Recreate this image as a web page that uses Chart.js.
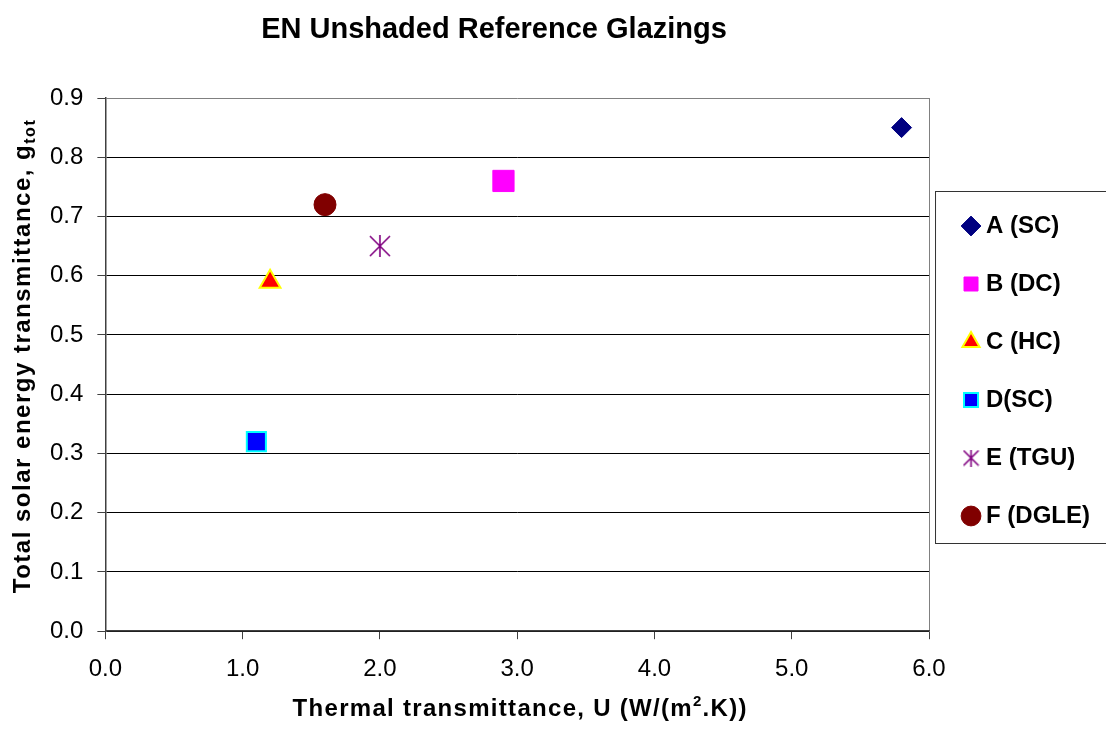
<!DOCTYPE html>
<html>
<head>
<meta charset="utf-8">
<script src="https://cdn.jsdelivr.net/npm/chart.js@4.4.0/dist/chart.umd.min.js"></script>
<style>
html, body { margin: 0; padding: 0; background: #fff; }
</style>
</head>
<body>
<canvas id="mycanvas" width="1106" height="729"></canvas>
<script>
// data
var seriesNames = ['A (SC)', 'B (DC)', 'C (HC)', 'D(SC)', 'E (TGU)', 'F (DGLE)'];
var uValues = [5.8, 2.9, 1.2, 1.1, 2.0, 1.6];
var gValues = [0.85, 0.76, 0.59, 0.32, 0.65, 0.72];
var xTickRange = [0, 6, 1];
var yTickRange = [0, 0.9, 0.1];

var chartTitle = 'EN Unshaded Reference Glazings';
var xTitleParts = [['Thermal transmittance, U (W/(m', 24, 0], ['2', 15, -10], ['.K))', 24, 0]];
var yTitleParts = [['Total solar energy transmittance, g', 24, 0], ['tot', 16, 5]];

var FONT = 'Arial, "Liberation Sans", sans-serif';

function makeStar(size, color) {
	var c = document.createElement('canvas');
	c.width = size;
	c.height = size;
	var g = c.getContext('2d');
	g.strokeStyle = color;
	g.lineWidth = 1.6;
	g.beginPath();
	g.moveTo(size / 2, 0); g.lineTo(size / 2, size);
	g.moveTo(1, 1); g.lineTo(size - 1, size - 1);
	g.moveTo(size - 1, 1); g.lineTo(1, size - 1);
	g.stroke();
	return c;
}
var bigStar = makeStar(22, '#800080');
var legendStar = makeStar(17, '#800080');

var markers = [
	{style: 'rectRot', bg: '#000080', border: '#000080', width: 1, r: 10},
	{style: 'rect', bg: '#FF00FF', border: '#FF00FF', width: 1, r: 15},
	{style: 'triangle', bg: '#FF0000', border: '#FFFF00', width: 2, r: 12},
	{style: 'rect', bg: '#0000FF', border: '#00FFFF', width: 2, r: 13.5},
	{style: bigStar, bg: '#800080', border: '#800080', width: 1, r: 11},
	{style: 'circle', bg: '#800000', border: '#800000', width: 1, r: 11}
];

var datasets = [];
for (var i in seriesNames) {
	var m = markers[i];
	datasets.push({
		label: seriesNames[i],
		data: [{x: uValues[i], y: gValues[i]}],
		pointStyle: m.style,
		backgroundColor: m.bg,
		borderColor: m.border,
		borderWidth: m.width,
		pointRadius: m.r,
		pointHoverRadius: m.r,
		showLine: false
	});
}

function drawRich(ctx, parts, x, y, spacing) {
	ctx.letterSpacing = spacing + 'px';
	var total = 0;
	parts.forEach(function(p) {
		ctx.font = 'bold ' + p[1] + 'px ' + FONT;
		total += ctx.measureText(p[0]).width;
	});
	var cur = x - total / 2;
	ctx.textAlign = 'left';
	parts.forEach(function(p) {
		ctx.font = 'bold ' + p[1] + 'px ' + FONT;
		ctx.fillText(p[0], cur, y + p[2]);
		cur += ctx.measureText(p[0]).width;
	});
	ctx.letterSpacing = '0px';
}

var textPlugin = {
	id: 'texts',
	afterLayout: function(chart) {
		var lg = chart.legend;
		lg.top -= 28; lg.bottom -= 28;
		lg.left += 5; lg.right += 5;
	},
	afterDraw: function(chart) {
		var ctx = chart.ctx;
		var area = chart.chartArea;
		ctx.save();
		ctx.fillStyle = '#000';
		ctx.textBaseline = 'alphabetic';
		ctx.textAlign = 'center';
		ctx.font = 'bold 29px ' + FONT;
		ctx.fillText(chartTitle, 494, 38);

		drawRich(ctx, xTitleParts, (area.left + area.right) / 2 + 3, 716, 1.3);

		ctx.save();
		ctx.translate(30, 356);
		ctx.rotate(-Math.PI / 2);
		drawRich(ctx, yTitleParts, 0, 0, 1.5);
		ctx.restore();

		// legend frame
		var hb = chart.legend.legendHitBoxes;
		if (hb && hb.length) {
			var top = hb[0].top - 23;
			var bottom = hb[hb.length - 1].top + 39;
			ctx.strokeStyle = '#333';
			ctx.lineWidth = 1;
			ctx.strokeRect(chart.legend.left + 1.5, top + 0.5, 400, bottom - top);
		}
		ctx.restore();
	}
};

Chart.defaults.font.family = FONT;
Chart.defaults.font.size = 24;
Chart.defaults.color = '#000';

var ctx = document.getElementById('mycanvas');
var chart = new Chart(ctx, {
	type: 'scatter',
	data: {datasets: datasets},
	options: {
		responsive: false,
		animation: false,
		events: [],
		layout: {padding: {top: 98, left: 36, right: 11, bottom: 29}},
		scales: {
			x: {
				type: 'linear',
				min: xTickRange[0],
				max: xTickRange[1],
				ticks: {stepSize: xTickRange[2], padding: 16, callback: function(v) { return v.toFixed(1); }},
				grid: {
					color: function(c) { return c.index === 6 ? '#808080' : 'rgba(0,0,0,0)'; },
					tickColor: '#404040',
					tickLength: 8
				},
				border: {color: '#404040', width: 1.5}
			},
			y: {
				type: 'linear',
				min: yTickRange[0],
				max: yTickRange[1],
				ticks: {stepSize: yTickRange[2], padding: 14, callback: function(v) { return v.toFixed(1); }},
				grid: {
					color: function(c) { return c.index === 9 ? '#808080' : '#000'; },
					tickColor: '#404040',
					tickLength: 8
				},
				border: {color: '#404040', width: 1.5}
			}
		},
		plugins: {
			title: {display: false},
			tooltip: {enabled: false},
			legend: {
				position: 'right',
				labels: {
					usePointStyle: true,
					boxWidth: 6,
					boxHeight: 14,
					padding: 34,
					color: '#000',
					font: {size: 24, weight: 'bold'},
					generateLabels: function(chart) {
						var items = Chart.defaults.plugins.legend.labels.generateLabels(chart);
						items.forEach(function(it) {
							if (it.pointStyle instanceof HTMLCanvasElement) it.pointStyle = legendStar;
						});
						return items;
					}
				}
			}
		}
	},
	plugins: [textPlugin]
});
</script>
</body>
</html>
